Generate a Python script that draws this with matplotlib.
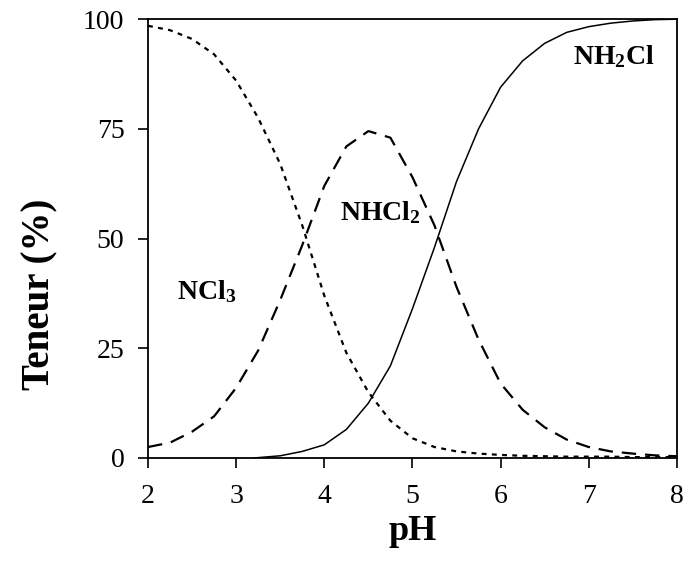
import matplotlib
matplotlib.use("Agg")
import matplotlib.pyplot as plt

ph = [2.0, 2.25, 2.5, 2.75, 3.0, 3.25, 3.5, 3.75, 4.0, 4.25, 4.5, 4.75, 5.0,
      5.25, 5.5, 5.75, 6.0, 6.25, 6.5, 6.75, 7.0, 7.25, 7.5, 7.75, 8.0]
ncl3 = [98.5, 97.5, 95.5, 92, 86, 77.5, 67, 53, 37, 24, 15, 8.5, 4.5,
        2.5, 1.5, 1.0, 0.7, 0.5, 0.4, 0.3, 0.3, 0.3, 0.2, 0.2, 0.2]
nhcl2 = [2.5, 3.5, 6, 9.5, 16, 24.5, 36, 48.5, 62, 71, 74.5, 73, 64,
         53, 39, 27, 17, 11, 7, 4.2, 2.5, 1.5, 1.0, 0.6, 0.4]
ph_nh2cl = [3.2, 3.5, 3.75, 4.0, 4.25, 4.5, 4.75, 5.0, 5.25, 5.5, 5.75, 6.0,
            6.25, 6.5, 6.75, 7.0, 7.25, 7.5, 7.75, 8.0]
nh2cl = [0.0, 0.5, 1.5, 3, 6.5, 12.5, 21, 34, 48, 63, 75, 84.5,
         90.5, 94.5, 97, 98.3, 99.1, 99.6, 99.9, 100]

xticks = [2, 3, 4, 5, 6, 7, 8]
yticks = [0, 25, 50, 75, 100]

serif = ["Liberation Serif", "DejaVu Serif"]
plt.rcParams["font.family"] = serif
plt.rcParams["mathtext.fontset"] = "custom"
plt.rcParams["mathtext.rm"] = "Liberation Serif"
plt.rcParams["mathtext.bf"] = "Liberation Serif:bold"

fig = plt.figure(figsize=(6.83, 5.65), dpi=100)
ax = fig.add_axes([0.2167, 0.1894, 0.7743, 0.7766])

ax.plot(ph, ncl3, color="black", lw=1.6, linestyle=(0, (2.2, 2.4)))
ax.plot(ph, nhcl2, color="black", lw=1.6, linestyle=(0, (6.5, 4)))
ax.plot(ph_nh2cl, nh2cl, color="black", lw=1.1, linestyle="-")

ax.set_xlim(2, 8)
ax.set_ylim(0, 100)
ax.set_xticks(xticks)
ax.set_yticks(yticks)
ax.tick_params(direction="out", length=7, width=1.2, labelsize=20)
ax.tick_params(axis="y", pad=10)
ax.tick_params(axis="x", pad=12)
for s in ax.spines.values():
    s.set_linewidth(1.3)

ax.set_xlabel("pH", fontsize=26, fontweight="bold", labelpad=4)
ax.set_ylabel("Teneur (%)", fontsize=28, fontweight="bold")
ax.yaxis.set_label_coords(-0.17, 0.374)

ax.text(2.66, 38, r"$\mathbf{NCl_3}$", fontsize=20, ha="center", va="center")
ax.text(4.64, 56, r"$\mathbf{NHCl_2}$", fontsize=20, ha="center", va="center")
ax.text(7.28, 91.5, r"$\mathbf{NH_2Cl}$", fontsize=20, ha="center", va="center")

fig.savefig("out.png", dpi=100)
